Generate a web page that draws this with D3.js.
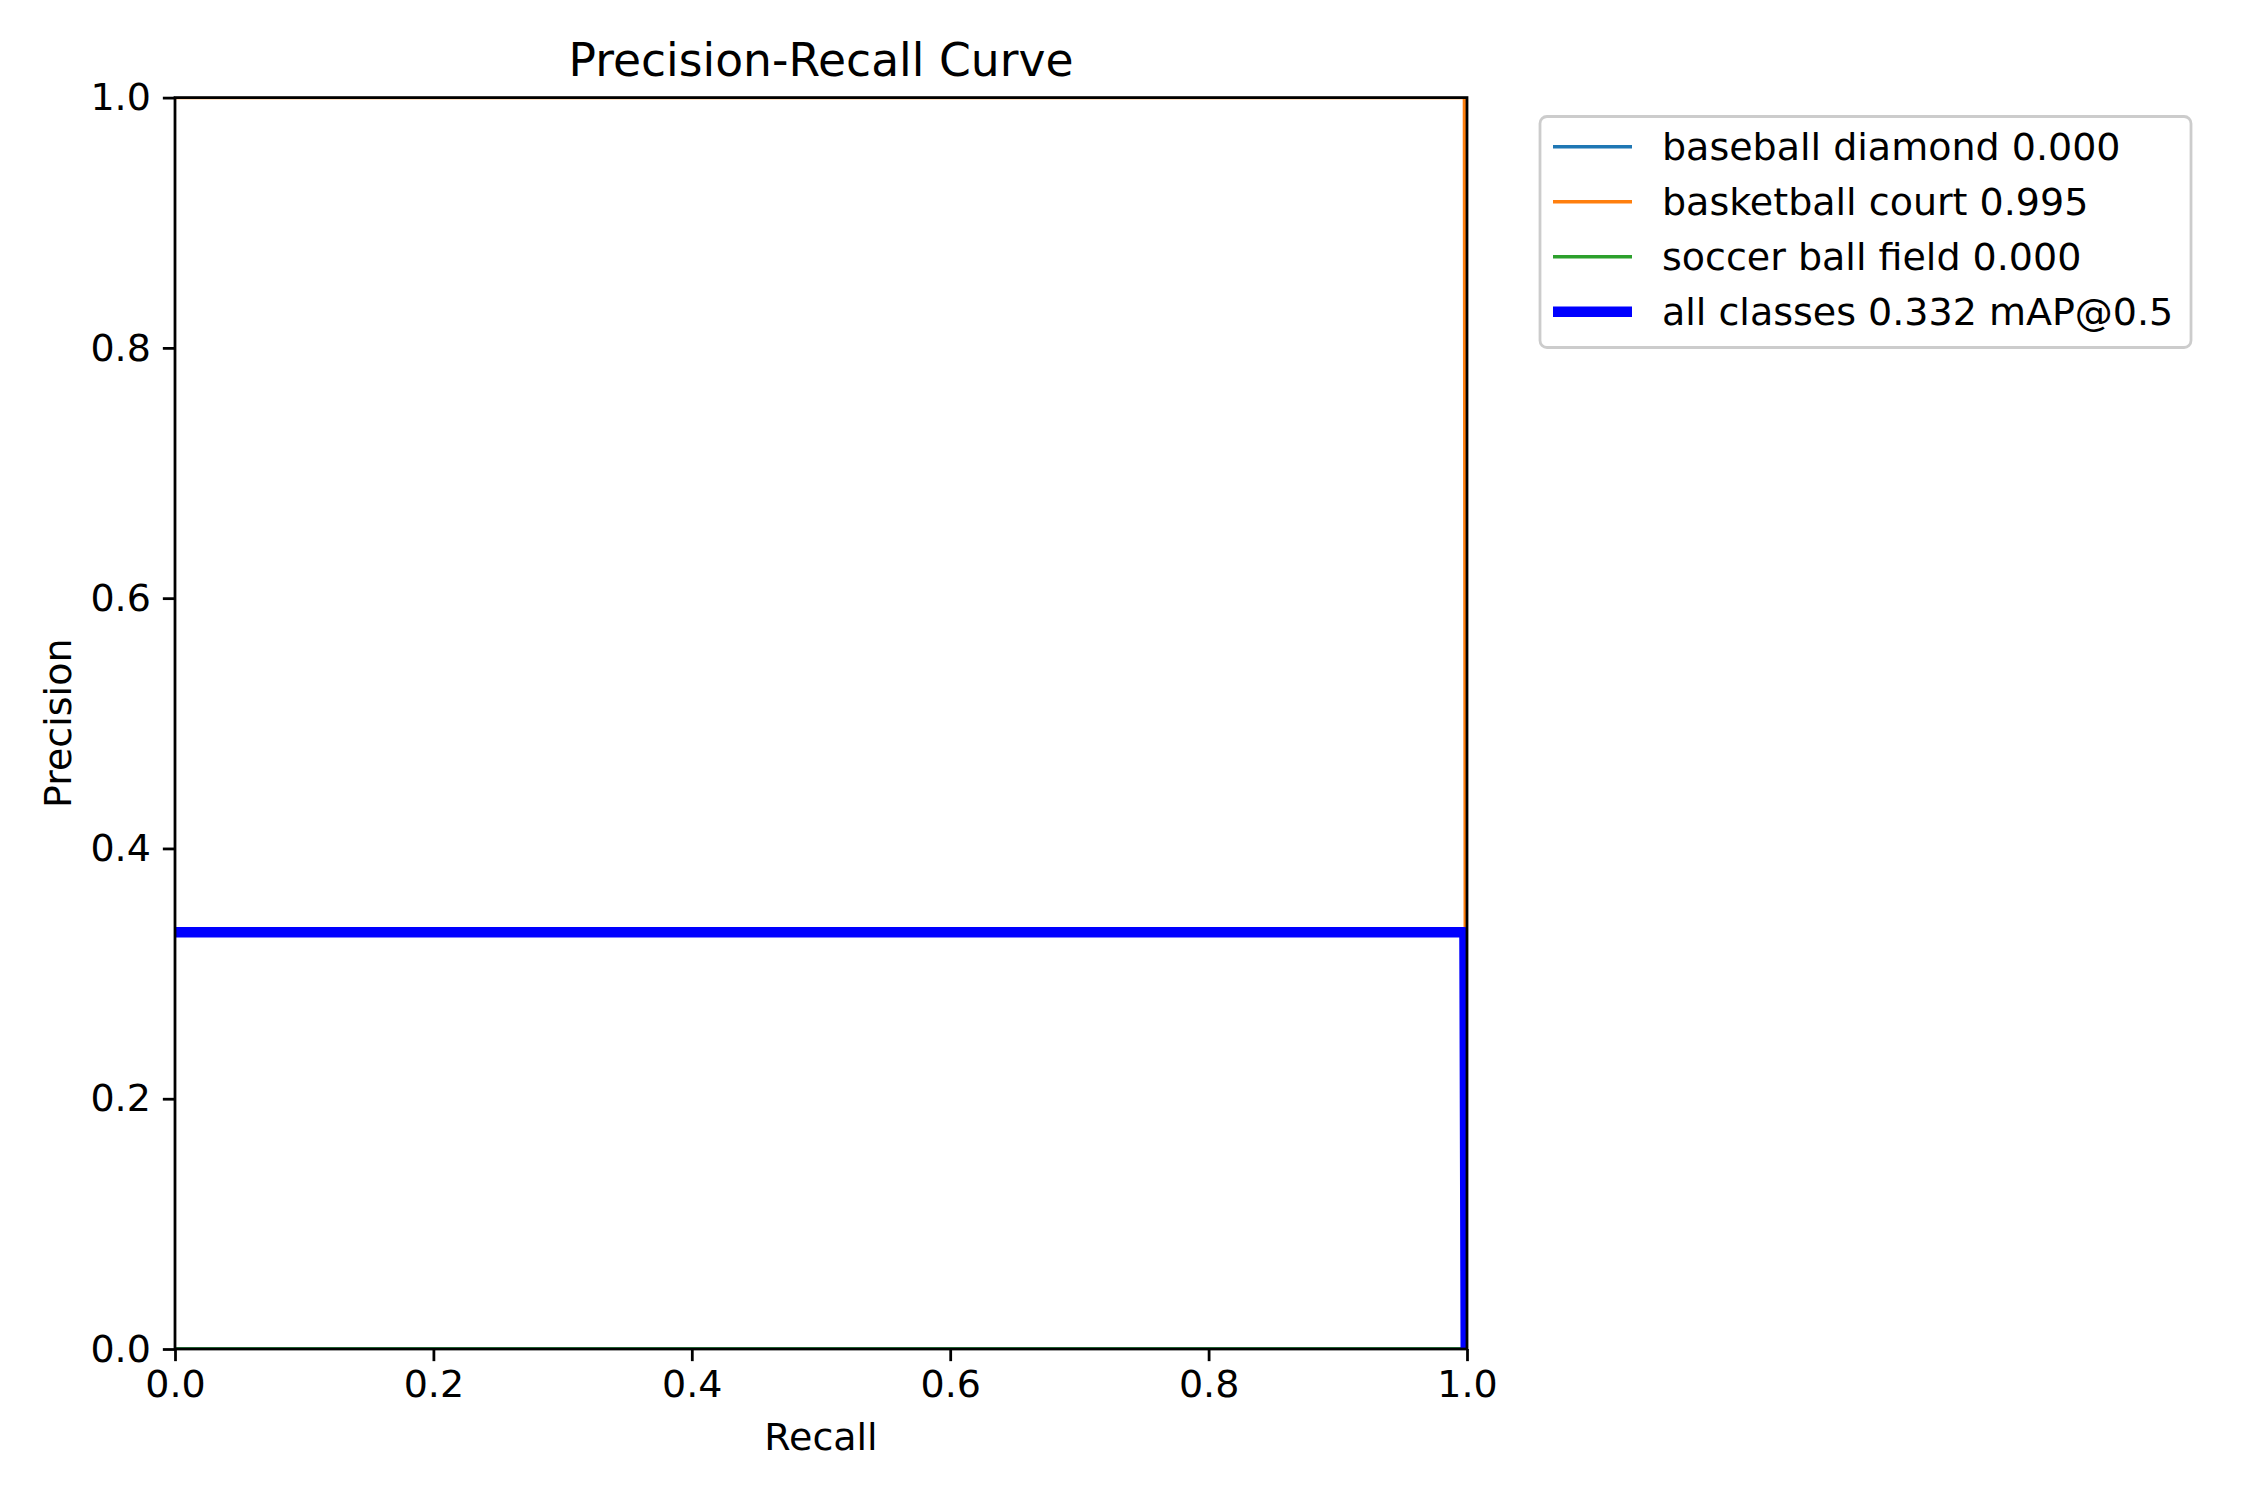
<!DOCTYPE html>
<html>
<head>
<meta charset="utf-8">
<script src="https://cdn.jsdelivr.net/npm/d3@7"></script>
<style>
  html, body { margin: 0; padding: 0; background: #fff; }
  svg { display: block; }
  text { font-family: "DejaVu Sans", sans-serif; fill: #000; }
</style>
</head>
<body>
<script>
// ---- data ----
const classNames = ["baseball diamond", "basketball court", "soccer ball field"];
const classAP = [0.000, 0.995, 0.000];
const classColors = ["#1f77b4", "#ff7f0e", "#2ca02c"];
const recall = [0.0, 0.998, 0.999, 1.0];
const precisionBaseball = [0.0, 0.0, 0.0, 0.0];
const precisionBasketball = [1.0, 1.0, 0.0, 0.0];
const precisionSoccer = [0.0, 0.0, 0.0, 0.0];
const recallAll = [0.0, 0.998, 0.999];
const precisionAll = [0.333, 0.333, 0.0];
const mAP = 0.332;
const tickValues = [0.0, 0.2, 0.4, 0.6, 0.8, 1.0];

// ---- layout ----
const W = 2250, H = 1500;
const L = 175, R = 1467, T = 97.6, B = 1349;
const FS = 38;

const svg = d3.select("body").append("svg").attr("width", W).attr("height", H);
svg.append("rect").attr("width", W).attr("height", H).attr("fill", "#fff");

const x = d3.scaleLinear().domain([0, 1]).range([L, R]);
const y = d3.scaleLinear().domain([0, 1]).range([B, T]);

svg.append("clipPath").attr("id", "clip")
  .append("rect").attr("x", L).attr("y", T).attr("width", R - L).attr("height", B - T);

const line = d3.line().x(d => x(d[0])).y(d => y(d[1]));
const g = svg.append("g").attr("clip-path", "url(#clip)");

const classPrecisions = [precisionBaseball, precisionBasketball, precisionSoccer];
classPrecisions.forEach((p, i) => {
  g.append("path")
    .datum(recall.map((r, j) => [r, p[j]]))
    .attr("d", line)
    .attr("fill", "none")
    .attr("stroke", classColors[i])
    .attr("stroke-width", 3.47)
    .attr("stroke-linejoin", "round")
    .attr("stroke-linecap", "butt");
});
g.append("path")
  .datum(recallAll.map((r, j) => [r, precisionAll[j]]))
  .attr("d", line)
  .attr("fill", "none")
  .attr("stroke", "#0000ff")
  .attr("stroke-width", 10.4)
  .attr("stroke-linejoin", "round")
  .attr("stroke-linecap", "butt");

// ---- axes ----
const xAxis = d3.axisBottom(x).tickValues(tickValues).tickFormat(d3.format(".1f"))
  .tickSize(12.15).tickPadding(9);
const yAxis = d3.axisLeft(y).tickValues(tickValues).tickFormat(d3.format(".1f"))
  .tickSize(12.15).tickPadding(12);

const gx = svg.append("g").attr("transform", `translate(0,${B})`).call(xAxis);
const gy = svg.append("g").attr("transform", `translate(${L},0)`).call(yAxis);
[gx, gy].forEach(a => {
  a.select(".domain").remove();
  a.selectAll(".tick line").attr("stroke", "#000").attr("stroke-width", 2.78);
  a.selectAll(".tick text").attr("font-size", FS).attr("font-family", "DejaVu Sans").attr("fill", "#000");
});

// spines
svg.append("rect").attr("x", L).attr("y", T).attr("width", R - L).attr("height", B - T)
  .attr("fill", "none").attr("stroke", "#000").attr("stroke-width", 2.78);

// labels
svg.append("text").attr("x", (L + R) / 2).attr("y", 60).attr("text-anchor", "middle")
  .attr("dominant-baseline", "central").attr("font-size", 45.6).text("Precision-Recall Curve");
svg.append("text").attr("x", (L + R) / 2).attr("y", 1437).attr("text-anchor", "middle")
  .attr("dominant-baseline", "central").attr("font-size", FS).text("Recall");
svg.append("text").attr("transform", `translate(58,${(T + B) / 2}) rotate(-90)`)
  .attr("text-anchor", "middle").attr("dominant-baseline", "central")
  .attr("font-size", FS).text("Precision");

// ---- legend ----
const legendItems = classNames.map((n, i) => ({
  label: `${n} ${classAP[i].toFixed(3)}`, color: classColors[i], w: 3.47
}));
legendItems.push({ label: `all classes ${mAP.toFixed(3)} mAP@0.5`, color: "#0000ff", w: 10.4 });

const lg = svg.append("g");
lg.append("rect").attr("x", 1540).attr("y", 116.5).attr("width", 651).attr("height", 231)
  .attr("rx", 7).attr("ry", 7)
  .attr("fill", "#fff").attr("fill-opacity", 0.8)
  .attr("stroke", "#cccccc").attr("stroke-width", 2.78);
const rowY = [146.7, 201.7, 256.7, 311.7];
legendItems.forEach((d, i) => {
  lg.append("line").attr("x1", 1553).attr("x2", 1632).attr("y1", rowY[i]).attr("y2", rowY[i])
    .attr("stroke", d.color).attr("stroke-width", d.w);
  lg.append("text").attr("x", 1662).attr("y", rowY[i]).attr("dominant-baseline", "central")
    .attr("font-size", FS).text(d.label);
});
</script>
</body>
</html>
